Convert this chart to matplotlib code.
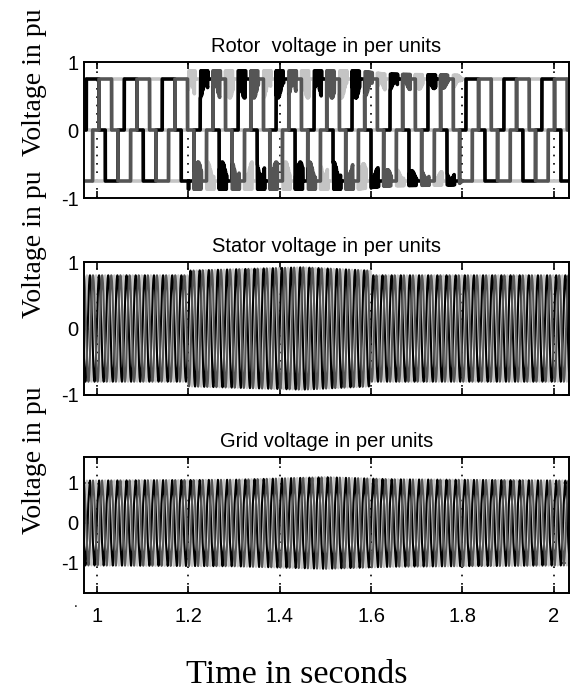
import numpy as np
import matplotlib.pyplot as plt

# common time axis
t_lim = (0.972, 2.033)
x_ticks = [1, 1.2, 1.4, 1.6, 1.8, 2]
x_tick_labels = ['1', '1.2', '1.4', '1.6', '1.8', '2']
dt = 2e-5

# phase a, b, c
phase_colors = ['#000000', '#555555', '#c4c4c4']
phase_shift = [0, 2 * np.pi / 3, 4 * np.pi / 3]
draw_order = [2, 0, 1]

# rotor side converter: 120 deg quasi-square output at slip frequency
rotor_freq = 12.04
rotor_level = 0.75
rotor_t0 = 0.970
# switching chatter on the bands after the step at 1.2 s
chatter_t = [0.97, 1.2, 1.2, 1.57, 1.63, 1.79, 1.8, 2.04]
chatter_a = [0.0, 0.0, 1.0, 1.0, 0.6, 0.45, 0.0, 0.0]
chatter_freq = 330
chatter_mod_freq = 41
chatter_span = 0.6          # part of each conduction interval that chatters
chatter_up, chatter_down = 0.12, -0.28

# stator and grid voltages
line_freq = 50
stator_env_t = [0.97, 1.2, 1.2, 1.45, 1.6, 1.6, 2.04]
stator_env_a = [0.80, 0.80, 0.87, 0.92, 0.87, 0.80, 0.80]
grid_env_t = [0.97, 1.3, 1.5, 1.65, 2.04]
grid_env_a = [1.0, 1.02, 1.08, 1.03, 1.0]
grid_h5 = 0.06

titles = ['Rotor  voltage in per units', 'Stator voltage in per units',
          'Grid voltage in per units']
y_limits = [(-1, 1), (-1, 1), (-1.75, 1.65)]
y_ticks = [-1, 0, 1]
line_widths = [2.6, 1.5, 1.5]

t = np.arange(t_lim[0], t_lim[1], dt)


def rotor_phase(k):
    th = np.mod(2 * np.pi * rotor_freq * (t - rotor_t0) - phase_shift[k],
                2 * np.pi)
    s = np.sin(th)
    band = np.sign(s) * (np.abs(s) > 0.5)
    # position inside the current conduction interval, 0..1
    u = np.mod(th - np.pi / 6, np.pi) / (2 * np.pi / 3)
    a = np.interp(t, chatter_t, chatter_a) * (u < chatter_span)
    sq = np.sin(2 * np.pi * chatter_freq * t + 1.7 * k) > 0
    depth = 0.6 + 0.4 * np.sin(2 * np.pi * chatter_mod_freq * t + k)
    extra = a * np.where(sq, chatter_up, chatter_down * depth)
    return band * (rotor_level + extra)


def stator_phase(k):
    amp = np.interp(t, stator_env_t, stator_env_a)
    return amp * np.sin(2 * np.pi * line_freq * t - phase_shift[k])


def grid_phase(k):
    amp = np.interp(t, grid_env_t, grid_env_a)
    w = 2 * np.pi * line_freq * t - phase_shift[k]
    return amp * (np.sin(w) + grid_h5 * np.sin(5 * w))


signals = [rotor_phase, stator_phase, grid_phase]

fig = plt.figure(figsize=(5.73, 6.94), dpi=100)
W, H = 573, 694
frames = [(62, 198), (262, 395), (457, 593)]
sans = 'Liberation Sans'
serif = 'Liberation Serif'

for i, (top, bot) in enumerate(frames):
    ax = fig.add_axes([84 / W, 1 - bot / H, 485 / W, (bot - top) / H])
    for k in draw_order:
        ax.plot(t, signals[i](k), color=phase_colors[k], lw=line_widths[i])
    ax.set_xlim(*t_lim)
    ax.set_ylim(*y_limits[i])
    ax.set_yticks(y_ticks)
    ax.set_yticklabels([str(v) for v in y_ticks], family=sans, fontsize=14.5)
    ax.set_xticks(x_ticks)
    if i == 2:
        ax.set_xticklabels(x_tick_labels, family=sans, fontsize=14.5)
    else:
        ax.set_xticklabels([])
    ax.tick_params(direction='in', length=5, width=1.2, top=True, right=True,
                   pad=4)
    ax.tick_params(axis='x', pad=10)
    ax.grid(axis='x', color='black', linestyle=(0, (1, 4)), lw=1.2)
    for sp in ax.spines.values():
        sp.set_linewidth(1.4)
    ax.set_title(titles[i], family=sans, fontsize=14.5, pad=7)

# axis labels
for yc in (82, 244, 460):
    fig.text(35 / W, 1 - yc / H, 'Voltage in pu', family=serif, fontsize=20,
             rotation=90, ha='center', va='center')
fig.text(297 / W, 1 - 683 / H, 'Time in seconds', family=serif, fontsize=24.5,
         ha='center', va='baseline')
fig.text(76 / W, 1 - 603 / H, '.', family=sans, fontsize=10, ha='center',
         va='center')

fig.savefig('out.png', dpi=100)
